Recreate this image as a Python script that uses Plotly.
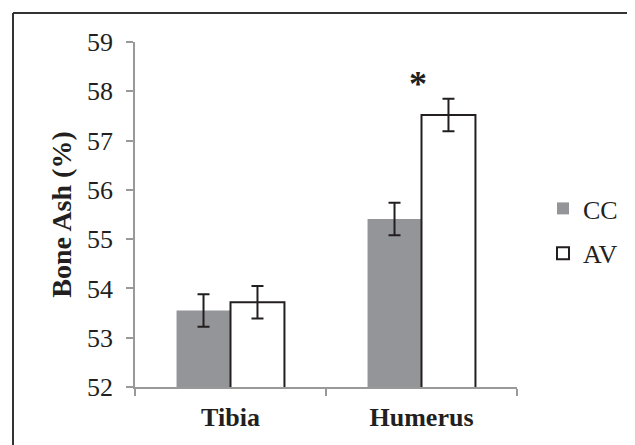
import plotly.graph_objects as go

categories = ["Tibia", "Humerus"]
cc_values = [53.55, 55.41]
cc_errors = [0.33, 0.33]
av_values = [53.72, 57.52]
av_errors = [0.33, 0.33]
y_ticks = [52, 53, 54, 55, 56, 57, 58, 59]

SERIF = "Liberation Serif"
INK = "#231f20"

# page body has an 8px margin, so the figure starts at (8, 8) on screen
OFF = 8
W, H = 635 - OFF, 445 - OFF
L, T = 135 - OFF, 42 - OFF
pw, ph = 382, 345
R, B = W - L - pw, H - T - ph

def sx(px):  # screen x -> paper
    return (px - OFF - L) / pw

def sy(py):  # screen y -> paper
    return (T + ph - (py - OFF)) / ph

fig = go.Figure()
fig.add_trace(go.Bar(
    name="CC", x=categories, y=cc_values, legendgroup="cc",
    marker=dict(color="#949599", line=dict(width=0)),
    error_y=dict(type="data", array=cc_errors, color=INK, thickness=2, width=6),
))
fig.add_trace(go.Bar(
    name="AV", x=categories, y=av_values, legendgroup="av",
    marker=dict(color="white", line=dict(color=INK, width=2)),
    error_y=dict(type="data", array=av_errors, color=INK, thickness=2, width=6),
))

fig.add_annotation(x=1, y=58.15, xref="x", yref="y", text="<b>*</b>", showarrow=False,
                   xshift=-4, font=dict(family=SERIF, size=36, color=INK))

# outer frame (left and top edges visible)
fig.add_shape(type="line", xref="paper", yref="paper",
              x0=sx(13), x1=sx(13), y0=sy(13), y1=sy(470),
              line=dict(color="#333333", width=2))
fig.add_shape(type="line", xref="paper", yref="paper",
              x0=sx(13), x1=sx(660), y0=sy(13), y1=sy(13),
              line=dict(color="#333333", width=2))

fig.update_layout(
    template="none",
    width=W, height=H,
    margin=dict(l=L, r=R, t=T, b=B, autoexpand=False),
    paper_bgcolor="white", plot_bgcolor="white",
    barmode="group", bargap=0.435, bargroupgap=0,
    font=dict(family=SERIF, color=INK, size=24),
    showlegend=True,
    legend=dict(x=sx(543), y=sy(185), xanchor="left", yanchor="top",
                font=dict(size=26, family=SERIF, color=INK), tracegroupgap=8,
                bgcolor="rgba(0,0,0,0)", itemwidth=30),
)
fig.update_xaxes(
    type="category", tickson="boundaries", ticks="outside", ticklen=7, tickcolor="#999999",
    tickwidth=1.5, showline=True, linecolor="#999999", linewidth=1.5,
    tickfont=dict(size=26, family=SERIF, color=INK), ticklabelstandoff=6,
    ticktext=["<b>Tibia</b>", "<b>Humerus</b>"], tickvals=categories,
    showgrid=False, zeroline=False, range=[-0.5, 1.5],
)
fig.update_yaxes(
    range=[52, 59], tickvals=y_ticks, ticks="outside", ticklen=7, tickcolor="#999999",
    tickwidth=1.5, showline=True, linecolor="#999999", linewidth=1.5,
    tickfont=dict(size=26, family=SERIF, color=INK), showgrid=False, zeroline=False,
    ticklabelstandoff=8,
    title=dict(text="<b>Bone Ash (%)</b>", font=dict(size=28, family=SERIF, color=INK), standoff=7),
)

fig.write_html("out.html")
